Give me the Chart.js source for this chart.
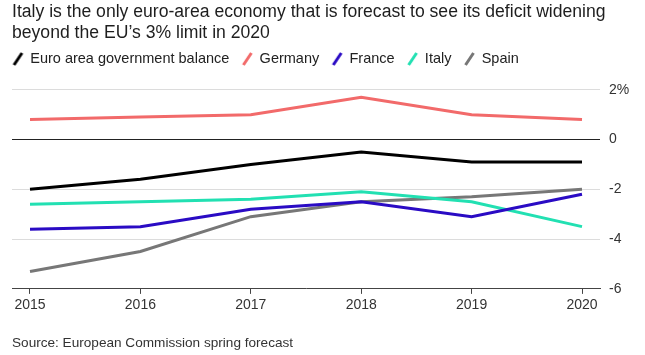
<!DOCTYPE html>
<html>
<head>
<meta charset="utf-8">
<script src="https://cdn.jsdelivr.net/npm/chart.js@4/dist/chart.umd.min.js"></script>
<style>
  html, body { margin: 0; padding: 0; background: #fff; }
  #wrap { position: relative; width: 645px; height: 355px; }
</style>
</head>
<body>
<div id="wrap"><canvas id="c" width="645" height="355"></canvas></div>
<script>
const years = [2015, 2016, 2017, 2018, 2019, 2020];
const euroArea = [-2.0, -1.6, -1.0, -0.5, -0.9, -0.9];
const germany  = [0.8, 0.9, 1.0, 1.7, 1.0, 0.8];
const france   = [-3.6, -3.5, -2.8, -2.5, -3.1, -2.2];
const italy    = [-2.6, -2.5, -2.4, -2.1, -2.5, -3.5];
const spain    = [-5.3, -4.5, -3.1, -2.5, -2.3, -2.0];
const yTicks   = [2, 0, -2, -4, -6];
const seriesNames = ['Euro area government balance', 'Germany', 'France', 'Italy', 'Spain'];
const titleLines = ['Italy is the only euro-area economy that is forecast to see its deficit widening', 'beyond the EU\u2019s 3% limit in 2020'];
const sourceText = 'Source: European Commission spring forecast';

const colors = ['#000000', '#f26a6a', '#2a0bc4', '#22e0b2', '#777777'];
const FONT = '"Liberation Sans", Arial, sans-serif';

function slash(color) {
  const c = document.createElement('canvas');
  c.width = 20; c.height = 16;
  const g = c.getContext('2d');
  g.strokeStyle = color; g.lineWidth = 3; g.lineCap = 'butt';
  g.beginPath(); g.moveTo(8.5, 14); g.lineTo(16.5, 2); g.stroke();
  return c;
}

const seriesData = [euroArea, germany, france, italy, spain];
const datasets = seriesData.map((arr, i) => ({
  label: seriesNames[i],
  data: years.map((y, j) => ({ x: y, y: arr[j] })),
  xAxisID: 'x',
  yAxisID: 'y',
  borderColor: colors[i],
  backgroundColor: colors[i],
  borderWidth: 3,
  pointRadius: 0,
  tension: 0,
  fill: false,
  borderCapStyle: 'butt',
  borderJoinStyle: 'miter'
}));

const legendShift = {
  id: 'legendShift',
  afterLayout(chart) { if (chart.legend) chart.legend.left = 0; }
};

new Chart(document.getElementById('c'), {
  type: 'line',
  data: { datasets },
  plugins: [legendShift],
  options: {
    responsive: false,
    animation: false,
    devicePixelRatio: 1,
    layout: { padding: { left: 12, right: 0, top: 0, bottom: 4 } },
    plugins: {
      title: {
        display: true,
        text: titleLines,
        align: 'start',
        color: '#1e1e1e',
        font: { family: FONT, size: 17.6, weight: 'normal', lineHeight: 1.2 },
        padding: { top: 1.5, bottom: 0 }
      },
      legend: {
        display: true,
        align: 'start',
        labels: {
          usePointStyle: true,
          pointStyleWidth: 15,
          boxHeight: 14,
          padding: 8,
          color: '#222',
          font: { family: FONT, size: 14.5 },
          generateLabels: (chart) => {
            const items = Chart.defaults.plugins.legend.labels.generateLabels(chart);
            items.forEach((it, i) => { it.pointStyle = slash(colors[i]); it.lineWidth = 0; });
            return items;
          }
        }
      },
      subtitle: {
        display: true,
        position: 'bottom',
        align: 'start',
        text: sourceText,
        color: '#333',
        font: { family: FONT, size: 13.6 },
        padding: { top: 18, bottom: 0 }
      },
      tooltip: { enabled: false }
    },
    scales: {
      x: {
        type: 'linear',
        min: 2014.837,
        max: 2020.163,
        afterBuildTicks: (s) => { s.ticks = years.map(v => ({ value: v })); },
        ticks: {
          color: '#333',
          font: { family: FONT, size: 14 },
          padding: 3,
          callback: (v) => String(v)
        },
        grid: { drawOnChartArea: false, drawTicks: true, tickLength: 5, color: '#444' },
        border: { display: true, color: '#444', width: 1 }
      },
      spacer: {
        type: 'linear',
        axis: 'x',
        position: 'top',
        display: true,
        afterFit: (s) => { s.height = 13.5; },
        ticks: { display: false },
        grid: { display: false, drawTicks: false },
        border: { display: false }
      },
      y: {
        position: 'right',
        min: -6,
        max: 2,
        afterBuildTicks: (s) => { s.ticks = yTicks.map(v => ({ value: v })); },
        afterFit: (s) => { s.width = 45; },
        ticks: {
          color: '#333',
          font: { family: FONT, size: 14 },
          padding: 9,
          callback: (v) => v === 2 ? '2%' : String(v)
        },
        grid: {
          drawTicks: false,
          color: (ctx) => ctx.tick && ctx.tick.value === 0 ? '#222' : '#dcdcdc',
          lineWidth: 1
        },
        border: { display: false }
      }
    }
  }
});
</script>
</body>
</html>
